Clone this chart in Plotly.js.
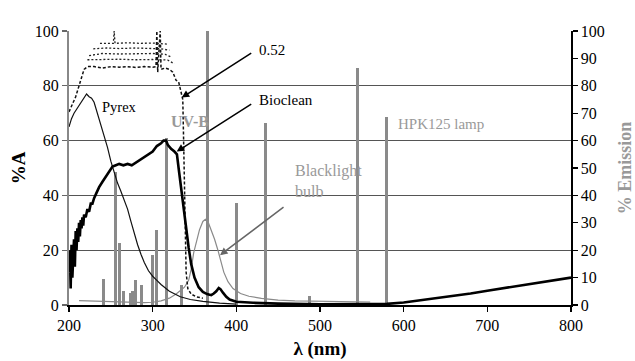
<!DOCTYPE html>
<html><head><meta charset="utf-8">
<script src="https://cdn.plot.ly/plotly-3.0.1.min.js"></script>
<style>html,body{margin:0;padding:0;background:#fff}#c{width:635px;height:361px}</style>
</head><body><div id="c"></div>
<script>
// Hg lamp (HPK125) emission lines, % emission
const lampNm  = [241, 255, 260, 265, 273, 276, 280, 287, 300, 305, 317, 335, 365, 400, 435, 487, 545, 580];
const lampPct = [9.4, 48.5, 22.5, 5, 4.5, 5.2, 9.1, 7.3, 18.2, 27.4, 61, 7.2, 100, 37.3, 66.4, 3.3, 86.5, 68.7];

// Blacklight bulb emission, %
const blNm  = [212, 230, 250, 270, 290, 300, 310, 320, 328, 334, 338, 343, 346, 349, 352, 356, 360, 363, 366, 370, 374, 378, 381, 385, 390, 396, 405, 415, 430, 450, 470, 500, 530, 560];
const blPct = [1.6, 1.4, 1.1, 0.9, 0.9, 1.0, 1.5, 2.5, 4, 5.5, 6.5, 9, 13, 19, 23, 27.5, 30.5, 31.3, 30.5, 27.5, 24, 20, 16.5, 12, 8.5, 6, 4.2, 3.2, 2.4, 1.8, 1.5, 1.3, 1.2, 1.1];

// Pyrex absorbance, %A
const pyNm = [200, 203, 206, 210, 214, 218, 221, 224, 227, 230, 234, 238, 242, 246, 250, 254, 258, 262, 266, 270, 274, 278, 282, 286, 290, 295, 300, 305, 310, 320, 333, 345, 360, 380, 400];
const pyA  = [65, 68, 70, 72, 74, 76, 77, 76, 75.5, 74, 70, 66, 62, 57.5, 52.5, 48, 44.5, 41.5, 38.5, 35, 30.5, 26, 22, 18.5, 15.5, 12.5, 10.5, 9, 7.5, 5, 3, 2, 1.3, 0.7, 0.3];

// Bioclean absorbance, %A
const bcNm = [200, 201, 202, 203, 204, 205, 206, 207, 208, 209, 210, 211, 212, 213, 214, 215, 216, 217, 218, 220, 222, 224, 226, 228, 230, 233, 236, 240, 244, 248, 252, 256, 260, 265, 270, 275, 280, 285, 290, 295, 300, 305, 310, 313, 316, 318, 322, 326, 329, 331, 333, 335, 338, 340, 343, 346, 350, 355, 360, 365, 370, 373, 376, 379, 381, 384, 388, 392, 396, 400, 420, 450, 500, 550, 580, 600, 620, 650, 680, 700, 730, 760, 800];
const bcA  = [12, 20, 6, 22, 10, 18, 24, 14, 27, 20, 28, 23, 30, 25, 31, 28, 32, 29, 33, 32, 35, 34, 37, 37, 39, 41, 43, 45, 47, 49, 50.5, 51, 51.5, 51, 51.5, 51, 52, 53, 54, 55, 56, 58, 59, 60, 60, 58.5, 57, 56, 55, 50, 45, 40, 33, 28, 21, 15, 10, 6.5, 4.8, 4, 3.6, 4.2, 5, 6.2, 5.8, 4.5, 3, 2, 1.5, 1.2, 0.8, 0.5, 0.3, 0.2, 0.4, 0.9, 1.7, 2.9, 4.2, 5.2, 6.7, 8.2, 10];

// 0.52 film absorbance, %A (main dashed curve and upper bands)
const f52Nm = [200, 204, 208, 212, 215, 218, 222, 230, 240, 250, 260, 270, 280, 290, 300, 304, 305, 306, 309, 310, 315, 320, 324, 328, 331, 334, 336, 337, 338, 339, 340, 342, 346, 352, 360];
const f52A  = [70.5, 73, 76, 80, 83, 86, 87, 87, 86.5, 87, 86.8, 87, 86.7, 87, 86.8, 87, 100, 85, 100, 86, 86.5, 86, 85, 82, 81.5, 78, 75, 60, 45, 25, 12, 6, 4, 3, 2.5];
const bandANm = [237, 250, 253, 254, 255, 270, 285, 300, 310, 318];
const bandA   = [95.5, 95.6, 95.5, 100, 95.5, 95.7, 95.5, 95.6, 95.4, 95.2];
const bandBNm = [229, 245, 260, 280, 300, 310, 320];
const bandB   = [93.5, 93.8, 93.6, 93.8, 93.6, 93.5, 93];
const bandCNm = [224, 240, 260, 280, 300, 315, 322];
const bandC   = [91, 91.8, 91.6, 91.7, 91.8, 91.5, 90.5];
const bandDNm = [222, 240, 260, 280, 300, 318, 326];
const bandD   = [89.5, 89.6, 89.7, 89.5, 89.6, 89.4, 88];

const xTicks = [200, 300, 400, 500, 600, 700, 800];
const yLeftTicks = [0, 20, 40, 60, 80, 100];
const yRightTicks = [0, 10, 20, 30, 40, 50, 60, 70, 80, 90, 100];

const FONT = '"Liberation Serif", "Times New Roman", serif';
const dotted = {color: '#222', width: 1.3, dash: '2px,2px'};

const traces = [
  {type: 'bar', x: lampNm, y: lampPct, width: 3.6, marker: {color: '#8a8a8a', line: {width: 0}}, xaxis: 'x', yaxis: 'y2', hoverinfo: 'skip'},
  {type: 'scatter', mode: 'lines', x: blNm, y: blPct, line: {color: '#8a8a8a', width: 1.2}, xaxis: 'x', yaxis: 'y2'},
  {type: 'scatter', mode: 'lines', x: f52Nm, y: f52A, line: {color: '#111', width: 1.5, dash: '3px,2px'}, xaxis: 'x', yaxis: 'y2'},
  {type: 'scatter', mode: 'lines', x: bandANm, y: bandA, line: dotted, xaxis: 'x', yaxis: 'y2'},
  {type: 'scatter', mode: 'lines', x: bandBNm, y: bandB, line: dotted, xaxis: 'x', yaxis: 'y2'},
  {type: 'scatter', mode: 'lines', x: bandCNm, y: bandC, line: dotted, xaxis: 'x', yaxis: 'y2'},
  {type: 'scatter', mode: 'lines', x: bandDNm, y: bandD, line: dotted, xaxis: 'x', yaxis: 'y2'},
  {type: 'scatter', mode: 'lines', x: pyNm, y: pyA, line: {color: '#111', width: 1.2}, xaxis: 'x', yaxis: 'y2'},
  {type: 'scatter', mode: 'lines', x: bcNm, y: bcA, line: {color: '#000', width: 2.6}, xaxis: 'x', yaxis: 'y2'}
];

const arrowBlack = {showarrow: true, arrowhead: 2, arrowsize: 1, arrowwidth: 1.5, arrowcolor: '#000', text: '', axref: 'x', ayref: 'y', xref: 'x', yref: 'y'};

const layout = {
  width: 635, height: 361,
  margin: {l: 69, r: 64, t: 31, b: 56},
  paper_bgcolor: '#fff', plot_bgcolor: '#fff',
  showlegend: false,
  font: {family: FONT, size: 16, color: '#000'},
  bargap: 0,
  xaxis: {range: [200, 800], tickvals: xTicks, ticks: 'outside', ticklen: 5, tickwidth: 1.3, tickcolor: '#000',
    showline: true, linecolor: '#000', linewidth: 1.5, showgrid: false, zeroline: false,
    tickfont: {family: FONT, size: 16, color: '#000'},
    title: {text: '<b>λ (nm)</b>', font: {family: FONT, size: 19, color: '#000'}, standoff: 9}},
  yaxis: {range: [0, 100], tickvals: yLeftTicks, ticks: 'outside', ticklen: 5, tickwidth: 1.3, tickcolor: '#666',
    showline: true, linecolor: '#888', linewidth: 2, showgrid: true, gridcolor: '#555', gridwidth: 1.3, zeroline: false,
    tickfont: {family: FONT, size: 16, color: '#000'},
    title: {text: '<b>%A</b>', font: {family: FONT, size: 19, color: '#000'}, standoff: 4}},
  yaxis2: {range: [0, 100], tickvals: yRightTicks, overlaying: 'y', side: 'right', anchor: 'x',
    ticks: 'outside', ticklen: 5, tickwidth: 1.3, tickcolor: '#000',
    showline: true, linecolor: '#000', linewidth: 1.5, showgrid: false, zeroline: false,
    tickfont: {family: FONT, size: 16, color: '#000'},
    title: {text: '<b>% Emission</b>', font: {family: FONT, size: 18, color: '#999'}, standoff: 14}},
  yaxis3: {range: [0, 100], tickvals: yRightTicks, overlaying: 'y', side: 'right', anchor: 'x',
    ticks: 'inside', ticklen: 5, tickwidth: 1.3, tickcolor: '#000', showticklabels: false,
    showline: false, showgrid: false, zeroline: false},
  xaxis2: {range: [200, 800], tickvals: xTicks, overlaying: 'x', side: 'bottom', anchor: 'y',
    ticks: 'inside', ticklen: 5, tickwidth: 1.3, tickcolor: '#000', showticklabels: false,
    showline: false, showgrid: false, zeroline: false},
  annotations: [
    {xref: 'x', yref: 'y', x: 393.6, y: 104.4, text: '<b>UV-A</b>', showarrow: false, font: {family: FONT, size: 16, color: '#888'}},
    {xref: 'x', yref: 'y', x: 344.6, y: 66.8, text: '<b>UV-B</b>', showarrow: false, font: {family: FONT, size: 16, color: '#999'}},
    {xref: 'x', yref: 'y', x: 424.7, y: 93.1, xanchor: 'left', text: '0.52', showarrow: false, font: {family: FONT, size: 15, color: '#000'}},
    Object.assign({}, arrowBlack, {x: 334.7, y: 75.7, ax: 419.6, ay: 92.3}),
    {xref: 'x', yref: 'y', x: 424.7, y: 74.8, xanchor: 'left', text: 'Bioclean', showarrow: false, font: {family: FONT, size: 15, color: '#000'}},
    Object.assign({}, arrowBlack, {x: 328.7, y: 56, ax: 419.6, ay: 73.7}),
    {xref: 'x', yref: 'y', x: 467.7, y: 45.3, xanchor: 'left', align: 'left', text: 'Blacklight<br>bulb', showarrow: false, font: {family: FONT, size: 16, color: '#999'}},
    Object.assign({}, arrowBlack, {x: 380.5, y: 18.2, ax: 458.2, ay: 36.1, arrowcolor: '#666'}),
    {xref: 'x', yref: 'y', x: 590.5, y: 66, xanchor: 'left', text: 'HPK125 lamp', showarrow: false, font: {family: FONT, size: 15, color: '#999'}},
    {xref: 'x', yref: 'y', x: 237, y: 72.3, xanchor: 'left', text: 'Pyrex', showarrow: false, font: {family: FONT, size: 14.5, color: '#000'}}
  ]
};

Plotly.newPlot('c', traces, layout, {staticPlot: true, displayModeBar: false});
</script></body></html>
